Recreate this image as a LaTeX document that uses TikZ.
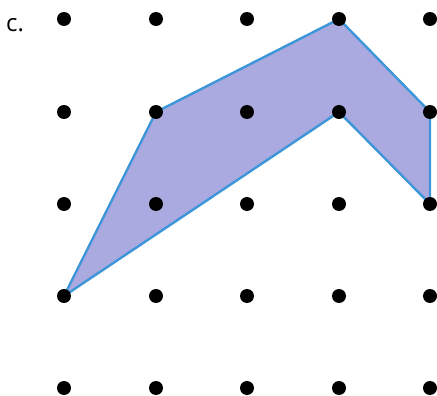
\documentclass[tikz,border=0pt]{standalone}
\usepackage{fontspec}
\setmainfont{Open Sans}
\definecolor{fillc}{RGB}{170,170,224}
\definecolor{edgec}{RGB}{60,150,215}
\begin{document}
\begin{tikzpicture}[x=1pt,y=-1pt,
  dot/.style={circle,fill=black,inner sep=0pt,minimum size=14pt},
  polyshape/.style={fill=fillc,draw=edgec,line width=2.4pt,line join=round}]
\useasboundingbox (0,0) rectangle (437,396);
\foreach \i/\x in {0/64,1/156,2/247,3/339,4/430}
  \foreach \j/\y in {0/19,1/112,2/204,3/296,4/388}
    \coordinate (p\i\j) at (\x,\y);
\filldraw[polyshape] (p03) -- (p11) -- (p30) -- (p41) -- (p42) -- (p31) -- cycle;
\foreach \i in {0,...,4}
  \foreach \j in {0,...,4}
    \node[dot] (d\i\j) at (p\i\j) {};
\node[anchor=base west,font=\fontsize{24}{28}\selectfont,inner sep=0pt] (lab) at (6,32) {c.};
\end{tikzpicture}
\end{document}
